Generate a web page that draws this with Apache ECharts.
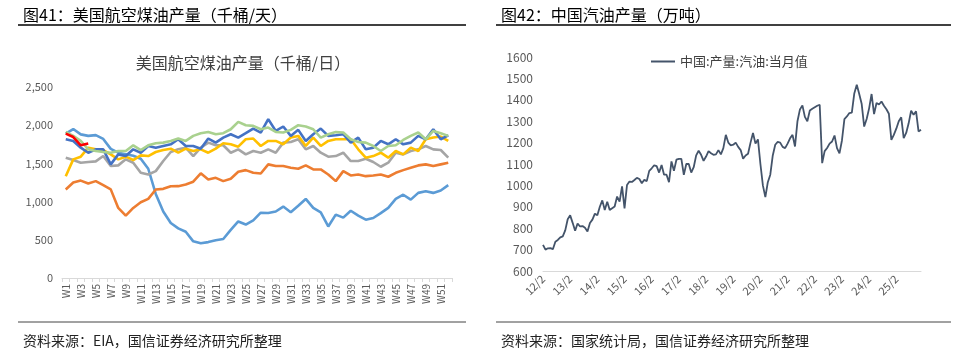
<!DOCTYPE html>
<html><head><meta charset="utf-8">
<script src="https://cdn.jsdelivr.net/npm/echarts@6/dist/echarts.min.js"></script>
<style>html,body{margin:0;padding:0;background:#fff}#c{width:961px;height:352px}</style>
</head><body><div id="c"></div>
<script>
// ---------- Left chart: US jet fuel production (kb/d), weekly ----------
const weeks = ["W1","W2","W3","W4","W5","W6","W7","W8","W9","W10","W11","W12","W13","W14","W15","W16","W17","W18","W19","W20","W21","W22","W23","W24","W25","W26","W27","W28","W29","W30","W31","W32","W33","W34","W35","W36","W37","W38","W39","W40","W41","W42","W43","W44","W45","W46","W47","W48","W49","W50","W51","W52"];
const jet2020 = [1890,1950,1880,1860,1870,1820,1690,1640,1620,1600,1560,1430,1100,870,720,650,605,480,455,470,495,510,630,740,700,755,855,850,870,935,860,945,1035,917,860,675,830,790,880,816,763,785,850,917,1035,1090,1026,1114,1136,1114,1145,1215];
const jet2021 = [1158,1250,1275,1237,1268,1215,1160,917,816,917,991,1035,1158,1167,1200,1202,1224,1260,1370,1290,1311,1268,1300,1390,1412,1377,1368,1487,1465,1465,1443,1430,1474,1421,1421,1355,1268,1399,1342,1355,1333,1342,1355,1325,1377,1412,1443,1474,1487,1465,1487,1509];
const jet2022 = [1575,1544,1509,1518,1526,1596,1465,1474,1553,1509,1377,1355,1399,1531,1649,1684,1706,1596,1706,1772,1737,1737,1640,1684,1618,1662,1640,1684,1640,1772,1781,1816,1684,1728,1640,1588,1596,1640,1531,1531,1561,1518,1456,1509,1640,1618,1662,1684,1728,1684,1675,1575];
const jet2023 = [1333,1553,1588,1706,1684,1675,1618,1553,1588,1544,1605,1596,1649,1675,1693,1640,1693,1662,1684,1640,1693,1763,1750,1719,1816,1825,1728,1794,1794,1750,1838,1860,1728,1838,1728,1794,1816,1816,1816,1684,1575,1596,1640,1575,1662,1618,1706,1662,1816,1838,1851,1794];
const jet2024 = [1816,1794,1706,1640,1684,1684,1487,1618,1596,1684,1640,1728,1706,1728,1750,1816,1728,1728,1693,1825,1772,1838,1882,1838,1895,1956,1904,2079,1925,1983,1860,1939,1794,1882,1956,1860,1868,1882,1772,1838,1684,1706,1794,1750,1816,1750,1772,1860,1816,1947,1816,1868];
const jet2025 = [1912,1860,1794,1684,1662,1649,1640,1662,1662,1737,1675,1737,1763,1772,1794,1825,1794,1860,1895,1912,1882,1895,1947,2044,2000,1991,1947,1969,1912,1904,1939,2000,1983,1947,1838,1882,1912,1904,1816,1781,1772,1728,1662,1728,1737,1807,1860,1904,1816,1925,1895,1860];
const jet2026 = [1890,1845,1737,1760];
const jetTicks = [0,500,1000,1500,2000,2500];

// ---------- Right chart: China gasoline output (10k t), monthly (Feb–Dec) ----------
const gasYears = ["12","13","14","15","16","17","18","19","20","21","22","23","24","25"];
const gasMonths = [2,3,4,5,6,7,8,9,10,11,12];
const gas2012 = [722,700,706,707,702,737,745,757,762,790,842];
const gas2013 = [860,825,788,822,808,810,802,785,824,840,868];
const gas2014 = [860,900,930,885,924,885,893,901,948,924,995];
const gas2015 = [893,1002,1018,1016,1025,1035,1030,1010,1026,1020,1068];
const gas2016 = [1080,1094,1090,1060,1095,1050,1050,1015,1112,1068,1120];
const gas2017 = [1124,1124,1049,1100,1100,1060,1085,1140,1162,1143,1115];
const gas2018 = [1135,1160,1150,1143,1145,1165,1145,1174,1236,1200,1187];
const gas2019 = [1190,1200,1180,1165,1125,1140,1148,1200,1245,1195,1215];
const gas2020 = [1100,1000,945,1015,1050,1140,1190,1203,1200,1180,1174];
const gas2021 = [1195,1220,1236,1182,1300,1355,1374,1320,1300,1350,1358];
const gas2022 = [1365,1372,1377,1104,1160,1175,1195,1205,1233,1174,1150];
const gas2023 = [1210,1310,1322,1338,1340,1430,1470,1427,1380,1275,1310];
const gas2024 = [1360,1427,1333,1385,1378,1392,1372,1356,1335,1213,1236];
const gas2025 = [1265,1300,1318,1221,1245,1290,1349,1330,1346,1252,1260];
const gasTicks = [600,700,800,900,1000,1100,1200,1300,1400,1500,1600];

const gasValues = [].concat(gas2012,gas2013,gas2014,gas2015,gas2016,gas2017,gas2018,gas2019,gas2020,gas2021,gas2022,gas2023,gas2024,gas2025);
const gasCats = [];
gasYears.forEach(y => gasMonths.forEach(m => gasCats.push(y + "/" + m)));

const FONT = '"Noto Sans CJK SC","Microsoft YaHei",sans-serif';
const chart = echarts.init(document.getElementById('c'), null, {renderer:'canvas'});

function jetSeries(name, data, color, z){
  return {name, type:'line', xAxisIndex:0, yAxisIndex:0, data, showSymbol:false, symbol:'none',
    lineStyle:{width:2.6, color}, itemStyle:{color}, z, animation:false};
}

chart.setOption({
  animation:false,
  textStyle:{fontFamily:FONT},
  title:[
    {text:'图41：美国航空煤油产量（千桶/天）', left:18, top:2, textStyle:{fontSize:16, fontWeight:'normal', color:'#000', fontFamily:FONT}},
    {text:'图42：中国汽油产量（万吨）', left:496, top:2, textStyle:{fontSize:16, fontWeight:'normal', color:'#000', fontFamily:FONT}},
    {text:'美国航空煤油产量（千桶/日）', left:238, top:50, textAlign:'center', textStyle:{fontSize:16, fontWeight:'normal', color:'#404040', fontFamily:FONT}},
    {text:'资料来源：EIA，国信证券经济研究所整理', left:18, top:329, textStyle:{fontSize:14, fontWeight:'normal', color:'#222', fontFamily:FONT}},
    {text:'资料来源：国家统计局，国信证券经济研究所整理', left:496, top:329, textStyle:{fontSize:14, fontWeight:'normal', color:'#222', fontFamily:FONT}}
  ],
  graphic:[
    {type:'line', shape:{x1:18,y1:25,x2:466,y2:25}, style:{stroke:'#000', lineWidth:1.5}},
    {type:'line', shape:{x1:496,y1:25,x2:951,y2:25}, style:{stroke:'#000', lineWidth:1.5}},
    {type:'line', shape:{x1:18,y1:322,x2:466,y2:322}, style:{stroke:'#444', lineWidth:1}},
    {type:'line', shape:{x1:496,y1:322,x2:951,y2:322}, style:{stroke:'#444', lineWidth:1}}
  ],
  legend:{show:true, data:['中国:产量:汽油:当月值'], left:646, top:50, itemWidth:24, itemHeight:2, icon:'rect', itemGap:4,
    textStyle:{fontSize:13, color:'#404040', fontFamily:FONT}},
  grid:[
    {left:62, top:87, width:390, height:191, containLabel:false},
    {left:543, top:57, width:378, height:214, containLabel:false}
  ],
  xAxis:[
    {type:'category', gridIndex:0, data:weeks, boundaryGap:true,
      axisLine:{lineStyle:{color:'#d9d9d9'}},
      axisTick:{show:true, interval:0, length:4, lineStyle:{color:'#d9d9d9'}},
      axisLabel:{interval:1, rotate:90, fontSize:10, color:'#595959', margin:6, fontFamily:FONT}},
    {type:'category', gridIndex:1, data:gasCats, boundaryGap:false,
      axisLine:{lineStyle:{color:'#d9d9d9'}},
      axisTick:{show:false},
      axisLabel:{interval:10, rotate:45, fontSize:11, color:'#595959', margin:6, fontFamily:FONT}}
  ],
  yAxis:[
    {type:'value', gridIndex:0, min:jetTicks[0], max:jetTicks[jetTicks.length-1], interval:500,
      axisLine:{show:false}, axisTick:{show:false}, splitLine:{show:false},
      axisLabel:{fontSize:11, color:'#595959', margin:9, fontFamily:FONT,
        formatter:v => v.toLocaleString('en-US')}},
    {type:'value', gridIndex:1, min:gasTicks[0], max:gasTicks[gasTicks.length-1], interval:100,
      axisLine:{show:false}, axisTick:{show:false}, splitLine:{show:false},
      axisLabel:{fontSize:12, color:'#595959', margin:10, fontFamily:FONT, formatter:v => String(v)}}
  ],
  series:[
    jetSeries('2020', jet2020, '#5B9BD5', 2),
    jetSeries('2021', jet2021, '#ED7D31', 3),
    jetSeries('2022', jet2022, '#A5A5A5', 4),
    jetSeries('2023', jet2023, '#FFC000', 5),
    jetSeries('2024', jet2024, '#4472C4', 6),
    jetSeries('2025', jet2025, '#A9D18E', 7),
    jetSeries('2026', jet2026, '#FF0000', 8),
    {name:'中国:产量:汽油:当月值', type:'line', xAxisIndex:1, yAxisIndex:1, data:gasValues,
      showSymbol:false, symbol:'none', lineStyle:{width:1.8, color:'#44546A'}, itemStyle:{color:'#44546A'}}
  ]
});
</script>
</body></html>
